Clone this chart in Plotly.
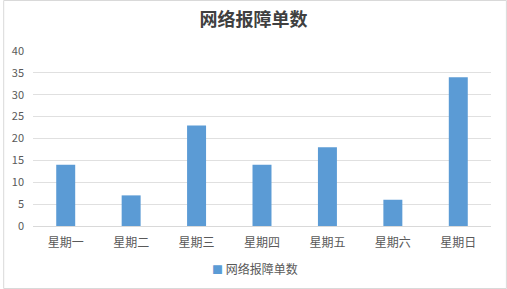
import plotly.graph_objects as go

categories = ["星期一", "星期二", "星期三", "星期四", "星期五", "星期六", "星期日"]
values = [14, 7, 23, 14, 18, 6, 34]
series_name = "网络报障单数"
title_text = "网络报障单数"
bar_color = "#5B9BD5"

W, H = 507, 289
L, R, T, B = 30, 16, 51, 63
pw, ph = W - L - R, H - T - B

fig = go.Figure()
fig.add_trace(go.Bar(x=categories, y=values, name=series_name,
                     marker=dict(color=bar_color, line=dict(width=0)),
                     width=0.29, showlegend=False))

font = "Noto Sans CJK SC, Microsoft YaHei, sans-serif"
fig.update_layout(
    width=W, height=H,
    margin=dict(l=L, r=R, t=T, b=B, pad=0),
    paper_bgcolor="white", plot_bgcolor="white",
    title=dict(text="<b>" + title_text + "</b>", x=0.5, xanchor="center",
               y=1 - 20 / H, yanchor="middle",
               font=dict(family=font, size=18, color="#404040")),
    font=dict(family=font, size=11, color="#595959"),
    xaxis=dict(showgrid=False, showline=True, linecolor="#D9D9D9", linewidth=1,
               ticks="", ticklabelstandoff=6,
               tickfont=dict(size=12, color="#595959")),
    yaxis=dict(range=[0, 40], dtick=5, showgrid=True, gridcolor="#E0E0E0",
               gridwidth=1, zeroline=False, showline=False, ticks="",
               ticklabelstandoff=8,
               tickfont=dict(size=11, color="#595959")),
    showlegend=False,
)
# legend as text, centred on the page
fig.add_annotation(xref="paper", yref="paper", x=(W / 2 - L) / pw, y=-(268 - 226) / ph,
                   xanchor="center", yanchor="middle", showarrow=False,
                   text=f"<span style='color:{bar_color};font-size:11px'>■</span> {series_name}",
                   font=dict(family=font, size=12, color="#595959"))
fig.add_shape(type="rect", xref="paper", yref="paper",
              x0=-(L - 0.5) / pw, x1=1 + (R - 0.5) / pw,
              y0=-(B - 0.5) / ph, y1=1 + (T - 0.5) / ph,
              line=dict(color="#D9D9D9", width=1), fillcolor="rgba(0,0,0,0)",
              layer="below")
fig.write_html("out.html")
